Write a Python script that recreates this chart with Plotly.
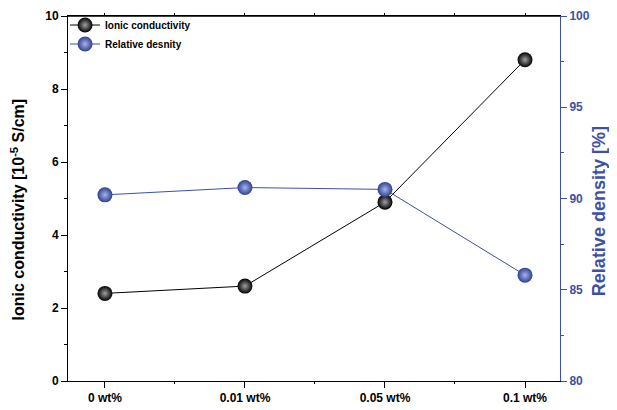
import plotly.graph_objects as go

categories = ["0 wt%", "0.01 wt%", "0.05 wt%", "0.1 wt%"]
ionic_conductivity = [2.4, 2.6, 4.9, 8.8]
relative_density = [90.2, 90.6, 90.5, 85.8]

BLUE = "#3D51A3"
FONT = "Liberation Sans, Arial, sans-serif"

x_idx = list(range(len(categories)))
x_minor = [i + 0.5 for i in x_idx[:-1]]
XRANGE = [-0.264, 3.25]

fig = go.Figure()
fig.add_trace(go.Scatter(
    x=x_idx, y=ionic_conductivity, name="<b>Ionic conductivity</b>",
    mode="lines+markers",
    line=dict(color="black", width=1),
    marker=dict(size=15, color="black",
                gradient=dict(type="radial", color="#A0A0A0"),
                line=dict(width=0)),
))
fig.add_trace(go.Scatter(
    x=x_idx, y=relative_density, name="<b>Relative desnity</b>",
    mode="lines+markers", xaxis="x2", yaxis="y2",
    line=dict(color=BLUE, width=1),
    marker=dict(size=15, color="#2E3F92",
                gradient=dict(type="radial", color="#A8B4E6"),
                line=dict(width=0)),
))

# page body has an 8px margin, so the figure is 8px smaller and margins shifted
fig.update_layout(
    width=609, height=402,
    margin=dict(l=60, r=57, t=8, b=29, autoexpand=False),
    paper_bgcolor="white", plot_bgcolor="white",
    font=dict(family=FONT, size=12, color="black"),
    showlegend=True,
    legend=dict(x=-0.006, y=1.015, xanchor="left", yanchor="top",
                bgcolor="rgba(0,0,0,0)", font=dict(size=10, family=FONT),
                tracegroupgap=0, itemwidth=30),
    xaxis=dict(
        range=XRANGE, tickmode="array", tickvals=x_idx,
        ticktext=[f"<b>{c}</b>" for c in categories],
        showline=True, linecolor="black", linewidth=1,
        ticks="outside", ticklen=6, tickcolor="black",
        minor=dict(tickvals=x_minor, ticks="outside", ticklen=2, tickcolor="black"),
        showgrid=False, zeroline=False, tickfont=dict(size=12),
        automargin=False,
    ),
    xaxis2=dict(
        range=XRANGE, overlaying="x", side="top", anchor="y2",
        tickmode="array", tickvals=x_idx, showticklabels=False,
        showline=True, linecolor="black", linewidth=1,
        ticks="outside", ticklen=2, tickcolor="black",
        minor=dict(tickvals=x_minor, ticks="outside", ticklen=2, tickcolor="black"),
        showgrid=False, zeroline=False, automargin=False,
    ),
    yaxis=dict(
        range=[0, 10], dtick=2,
        showline=True, linecolor="black", linewidth=1,
        ticks="outside", ticklen=6, tickcolor="black",
        minor=dict(dtick=1, ticks="outside", ticklen=3, tickcolor="black"),
        tickformat="d",
        tickprefix="<b>", ticksuffix="</b>",
        showgrid=False, zeroline=False, tickfont=dict(size=12),
        automargin=False,
    ),
    yaxis2=dict(
        range=[80, 100], dtick=5, overlaying="y", side="right", anchor="x2",
        showline=True, linecolor=BLUE, linewidth=1,
        ticks="outside", ticklen=6, tickcolor=BLUE,
        minor=dict(dtick=2.5, ticks="outside", ticklen=3, tickcolor=BLUE),
        tickprefix="<b>", ticksuffix="</b>",
        showgrid=False, zeroline=False, tickfont=dict(size=12, color=BLUE),
        automargin=False,
    ),
    shapes=[dict(type="line", xref="paper", yref="paper", x0=0, x1=1, y0=1, y1=1,
                 line=dict(color="black", width=1.5), layer="above")],
    annotations=[
        dict(text="<b>Ionic conductivity [10<sup>-5</sup> S/cm]</b>", textangle=-90,
             xref="paper", yref="paper", x=-0.1016, y=0.47,
             xanchor="center", yanchor="middle", showarrow=False,
             font=dict(size=16, color="black", family=FONT)),
        dict(text="<b>Relative density [%]</b>", textangle=-90,
             xref="paper", yref="paper", x=1.079, y=0.465,
             xanchor="center", yanchor="middle", showarrow=False,
             font=dict(size=18, color=BLUE, family=FONT)),
    ],
)

fig.write_html("out.html")
